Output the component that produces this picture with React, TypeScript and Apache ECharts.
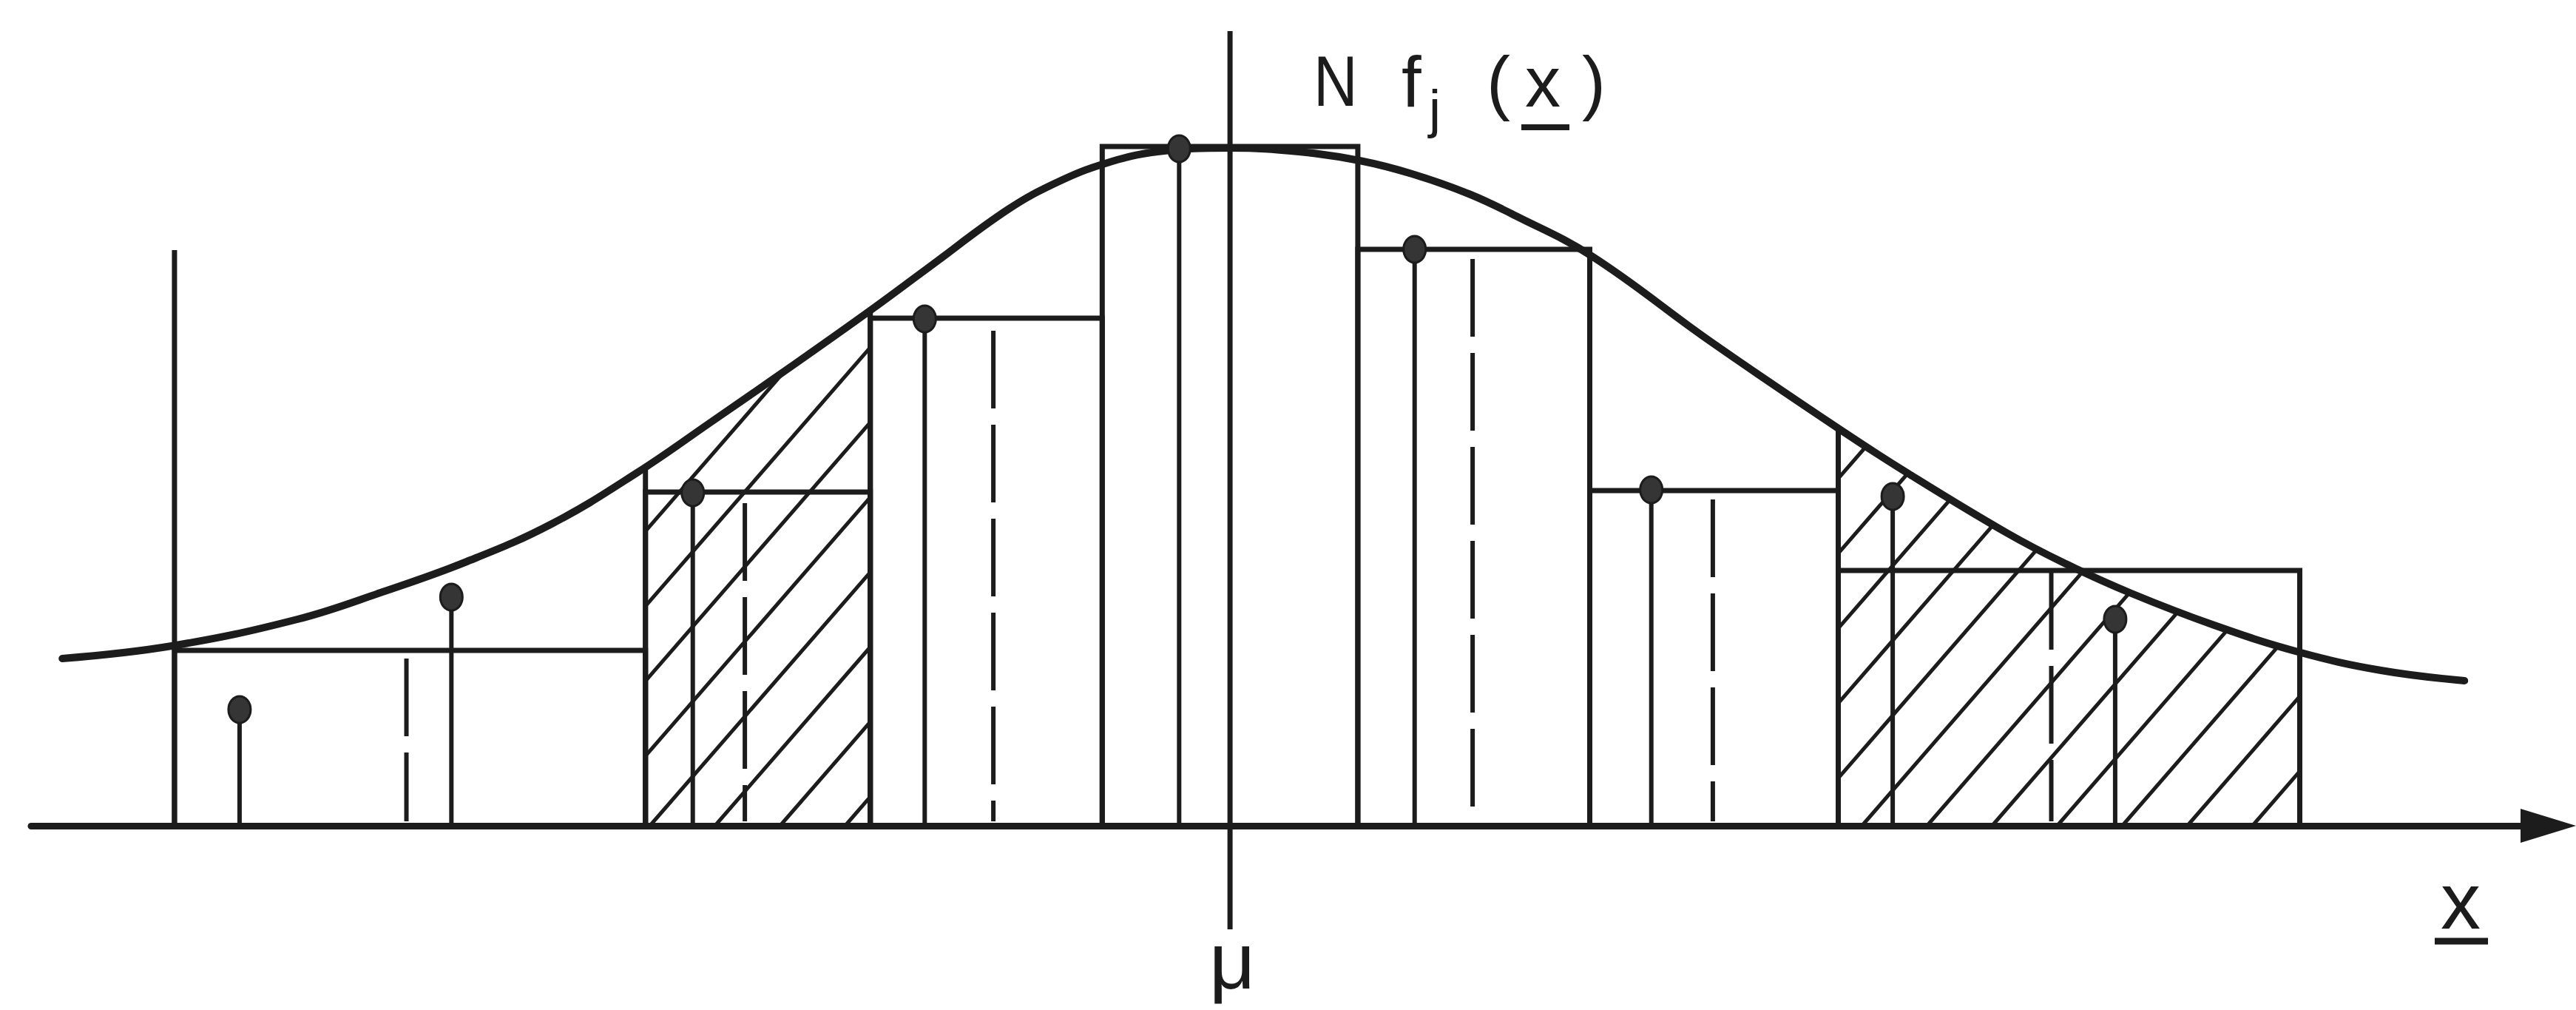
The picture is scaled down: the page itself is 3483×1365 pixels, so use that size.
import React, { useEffect, useRef } from "react";
import * as echarts from "echarts";

// Class boundaries of the grouped variable (μ = 0) and the observed counts per class.
const classEdges = [-44.6, -24.7, -15.2, -5.4, 5.4, 15.2, 25.7, 45.2];
const classCounts = [11.85, 22.55, 34.3, 45.9, 38.95, 22.65, 17.25];

// Class midpoints (dashed) and the height each dashed line reaches.
const midX = [-34.8, -20.5, -10.0, 10.25, 20.4, 34.7];
const midTop = [11.3, 21.8, 33.45, 38.3, 22.05, 17.15];

// Individual sample points x_i with their values.
const pointX = [-41.85, -32.9, -22.7, -12.9, -2.15, 7.8, 17.8, 28.0, 37.4];
const pointY = [7.85, 15.45, 22.5, 34.25, 45.75, 38.95, 22.7, 22.25, 13.95];

// Expected frequency curve N f_j(x).
const curveX = [
  -49.34, -44.72, -39.41, -35.81, -32.25, -28.66, -25.06, -21.91, -18.44, -15.22, -12.84,
  -9.38, -7.28, -5.28, -3.06, 0.03, 2.91, 5.47, 7.69, 10.09, 12.09, 15.28, 20.28, 25.75,
  28.66, 32.81, 35.25, 38.09, 41.59, 45.13, 48.63, 52.16,
];
const curveY = [
  11.3, 12.15, 13.95, 15.8, 17.85, 20.4, 23.85, 27.3, 31.15, 34.8, 37.6, 41.65, 43.5,
  44.75, 45.55, 45.8, 45.55, 44.95, 44.05, 42.7, 41.2, 38.5, 32.75, 26.8, 23.8, 19.8,
  17.75, 15.7, 13.55, 11.75, 10.5, 9.8,
];

// Tail classes whose area under the curve is shaded.
const tailClasses = [
  [-24.7, -15.2],
  [25.7, 45.2],
];

// Mean and the vertical guide lines.
const MU = 0;
const muSpan = [-7.0, 53.7];
const rangeStart = -44.6;
const rangeStartTop = 38.9;

// Axis extents (20 px per count, 32 px per x unit on a 3483 x 1365 canvas).
const X_MIN = -50.66;
const X_MAX = 55.7;
const Y_MIN = -12.45;
const Y_MAX = 55.8;

// Drawing styles.
const INK = "#1c1c1c";
const FONT = '"Liberation Sans", Arial, sans-serif';
const HATCH_GAP = 88;
const HATCH_ANGLE = (49 * Math.PI) / 180;
const HATCH_PHASE = [6, 32];

function text(str: string, x: number, y: number, size: number, extra: any = {}) {
  return {
    type: "text",
    x,
    y,
    ...extra,
    style: {
      text: str,
      fontSize: size,
      fontFamily: FONT,
      fill: INK,
      align: extra.align || "left",
      verticalAlign: "middle",
    },
  };
}

export default function App() {
  const ref = useRef<HTMLDivElement>(null);

  useEffect(() => {
    if (!ref.current) return;
    const chart = echarts.init(ref.current, undefined, { renderer: "svg" });

    const curvePixels = (api: any) =>
      curveX.map((x, i) => api.coord([x, curveY[i]]) as number[]);

    const curveAt = (pts: number[][], px: number) => {
      if (px <= pts[0][0]) return pts[0][1];
      for (let i = 1; i < pts.length; i++) {
        if (px <= pts[i][0]) {
          const t = (px - pts[i - 1][0]) / (pts[i][0] - pts[i - 1][0]);
          return pts[i - 1][1] + t * (pts[i][1] - pts[i - 1][1]);
        }
      }
      return pts[pts.length - 1][1];
    };

    const option: any = {
      animation: false,
      backgroundColor: "#ffffff",
      grid: { left: 42, right: 37.5, top: 0, bottom: 0, containLabel: false },
      xAxis: {
        type: "value",
        min: X_MIN,
        max: X_MAX,
        axisLine: {
          show: true,
          onZero: true,
          symbol: ["none", "triangle"],
          symbolSize: [46, 75],
          lineStyle: { color: INK, width: 9 },
        },
        axisTick: { show: false },
        axisLabel: { show: false },
        splitLine: { show: false },
      },
      yAxis: {
        type: "value",
        min: Y_MIN,
        max: Y_MAX,
        axisLine: { show: false },
        axisTick: { show: false },
        axisLabel: { show: false },
        splitLine: { show: false },
      },
      series: [
        {
          // histogram of the classes
          type: "custom",
          name: "classes",
          clip: false,
          z: 2,
          data: classCounts.map((h, i) => [classEdges[i], classEdges[i + 1], h]),
          encode: { x: [0, 1], y: 2 },
          renderItem: (_p: any, api: any) => {
            const x0 = api.value(0);
            const x1 = api.value(1);
            const h = api.value(2);
            return {
              type: "polyline",
              shape: {
                points: [
                  api.coord([x0, 0]),
                  api.coord([x0, h]),
                  api.coord([x1, h]),
                  api.coord([x1, 0]),
                ],
              },
              style: { stroke: INK, lineWidth: 7, fill: "none", lineJoin: "miter" },
            };
          },
        },
        {
          // shaded tail areas under the curve
          type: "custom",
          name: "tails",
          clip: false,
          z: 3,
          data: tailClasses,
          encode: { x: [0, 1] },
          renderItem: (params: any, api: any) => {
            const pts = curvePixels(api);
            const [pL, y0] = api.coord([api.value(0), 0]);
            const [pR] = api.coord([api.value(1), 0]);
            const tanA = Math.tan(HATCH_ANGLE);
            const children: any[] = [];
            const edge = (px: number) => ({
              type: "line",
              shape: { x1: px, y1: y0, x2: px, y2: curveAt(pts, px) },
              style: { stroke: INK, lineWidth: 7 },
            });
            children.push(edge(pL), edge(pR));
            let top = y0;
            for (let px = pL; px <= pR; px += 2) top = Math.min(top, curveAt(pts, px));
            const reach = (y0 - top) / tanA;
            let c = pL + HATCH_PHASE[params.dataIndex];
            while (c - HATCH_GAP > pL - reach) c -= HATCH_GAP;
            for (; c < pR; c += HATCH_GAP) {
              let sx: number;
              let sy: number;
              if (c >= pL) {
                sx = c;
                sy = y0;
              } else {
                sx = pL;
                sy = y0 - (pL - c) * tanA;
                if (sy <= curveAt(pts, pL)) continue;
              }
              let ex = sx;
              let ey = sy;
              for (let x = sx; x <= pR; x += 0.5) {
                const ly = y0 - (x - c) * tanA;
                if (ly <= curveAt(pts, x)) break;
                ex = x;
                ey = ly;
              }
              if (ex - sx < 1) continue;
              children.push({
                type: "line",
                shape: { x1: sx, y1: sy, x2: ex, y2: ey },
                style: { stroke: INK, lineWidth: 5 },
              });
            }
            return { type: "group", children };
          },
        },
        {
          // expected frequency curve
          type: "line",
          name: "N f_j(x)",
          z: 4,
          smooth: 0.4,
          symbol: "none",
          data: curveX.map((x, i) => [x, curveY[i]]),
          lineStyle: { color: INK, width: 10, cap: "round" },
        },
        {
          // class midpoints
          type: "custom",
          name: "midpoints",
          clip: false,
          z: 2,
          data: midX.map((x, i) => [x, midTop[i]]),
          renderItem: (_p: any, api: any) => {
            const a = api.coord([api.value(0), api.value(1)]);
            const b = api.coord([api.value(0), 0]);
            return {
              type: "line",
              shape: { x1: a[0], y1: a[1], x2: b[0], y2: b[1] - 6 },
              style: { stroke: INK, lineWidth: 6, lineDash: [105, 22] },
            };
          },
        },
        {
          // range start and mean lines
          type: "custom",
          name: "guides",
          clip: false,
          z: 2,
          data: [
            [rangeStart, 0, rangeStartTop],
            [MU, muSpan[0], muSpan[1]],
          ],
          encode: { x: 0, y: [1, 2] },
          renderItem: (_p: any, api: any) => {
            const a = api.coord([api.value(0), api.value(1)]);
            const b = api.coord([api.value(0), api.value(2)]);
            return {
              type: "line",
              shape: { x1: a[0], y1: a[1], x2: b[0], y2: b[1] },
              style: { stroke: INK, lineWidth: 7 },
            };
          },
        },
        {
          // sample points on stems
          type: "custom",
          name: "points",
          clip: false,
          z: 6,
          data: pointX.map((x, i) => [x, pointY[i]]),
          renderItem: (_p: any, api: any) => {
            const a = api.coord([api.value(0), api.value(1)]);
            const b = api.coord([api.value(0), 0]);
            return {
              type: "group",
              children: [
                {
                  type: "line",
                  shape: { x1: a[0], y1: a[1], x2: b[0], y2: b[1] },
                  style: { stroke: INK, lineWidth: 6 },
                },
                {
                  type: "ellipse",
                  shape: { cx: a[0], cy: a[1], rx: 15, ry: 18 },
                  style: { fill: "#353535", stroke: INK, lineWidth: 3 },
                },
              ],
            };
          },
        },
      ],
      graphic: [
        text("N", 1776, 110, 96, { scaleX: 0.86 }),
        text("f", 1895, 110, 96),
        text("j", 1932, 147, 72),
        text("(", 2010, 110, 96),
        text("x", 2062, 110, 96),
        text(")", 2139, 110, 96),
        {
          type: "line",
          shape: { x1: 2057, y1: 172, x2: 2122, y2: 172 },
          style: { stroke: INK, lineWidth: 8 },
        },
        text("μ", 1666, 1298, 108, { align: "center" }),
        text("x", 3327, 1217, 108, { align: "center" }),
        {
          type: "line",
          shape: { x1: 3292, y1: 1272, x2: 3364, y2: 1272 },
          style: { stroke: INK, lineWidth: 9 },
        },
      ],
    };

    chart.setOption(option);
    return () => chart.dispose();
  }, []);

  return (
    <div
      ref={ref}
      style={{ position: "fixed", left: 0, top: 0, width: 3483, height: 1365, background: "#fff" }}
    />
  );
}
